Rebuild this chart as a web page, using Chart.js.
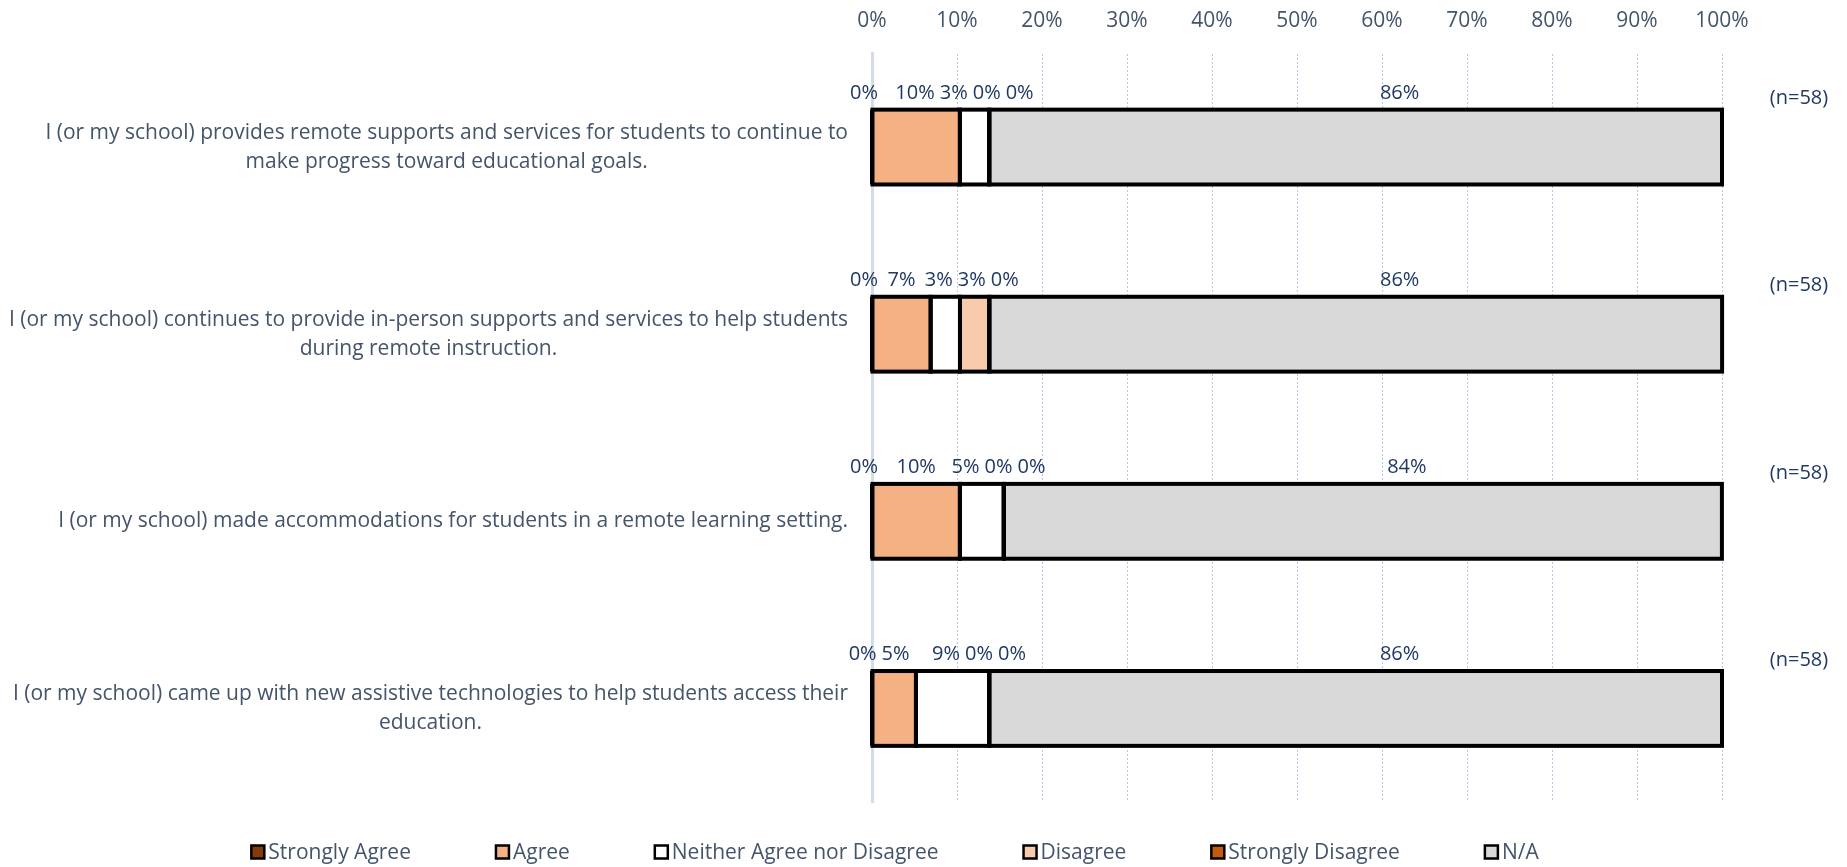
<!DOCTYPE html>
<html>
<head>
<meta charset="utf-8">
<script src="https://cdn.jsdelivr.net/npm/chart.js@4/dist/chart.umd.min.js"></script>
<style>
  html, body { margin: 0; padding: 0; background: #ffffff; }
  #wrap { width: 1847px; height: 867px; }
</style>
</head>
<body>
<div id="wrap"><canvas id="c" width="1847" height="867"></canvas></div>
<script>
// ---------------- data ----------------
const categories = [
  ['I (or my school) provides remote supports and services for students to continue to', 'make progress toward educational goals.'],
  ['I (or my school) continues to provide in-person supports and services to help students', 'during remote instruction.'],
  ['I (or my school) made accommodations for students in a remote learning setting.'],
  ['I (or my school) came up with new assistive technologies to help students access their', 'education.']
];
const seriesNames = ['Strongly Agree', 'Agree', 'Neither Agree nor Disagree', 'Disagree', 'Strongly Disagree', 'N/A'];
const stronglyAgree    = [0, 0, 0, 0];
const agree            = [10.34, 6.90, 10.34, 5.17];
const neither          = [3.45, 3.45, 5.17, 8.62];
const disagree         = [0, 3.45, 0, 0];
const stronglyDisagree = [0, 0, 0, 0];
const notApplicable    = [86.21, 86.21, 84.48, 86.21];
const respondents      = [58, 58, 58, 58];
const xTickValues      = [0, 10, 20, 30, 40, 50, 60, 70, 80, 90, 100];

// ---------------- styles ----------------
const FONT = "'Open Sans', 'Noto Sans', sans-serif";
const seriesColors = ['#843C0C', '#F4B183', '#FFFFFF', '#F8CBAD', '#C55A11', '#D9D9D9'];
const seriesLabelNudge = [-8, 0, 0, 0, 6, 44];
const TEXT_GREY = '#44546A';
const TEXT_NAVY = '#1F3864';

const seriesValues = [stronglyAgree, agree, neither, disagree, stronglyDisagree, notApplicable];

const datasets = seriesNames.map((name, i) => ({
  label: name,
  data: seriesValues[i],
  backgroundColor: seriesColors[i],
  borderWidth: 0,
  barPercentage: 0.4,
  categoryPercentage: 1.0
}));

// outline each segment like the Excel bars
const outlinePlugin = {
  id: 'outline',
  afterDatasetsDraw(chart) {
    const ctx = chart.ctx;
    ctx.save();
    ctx.strokeStyle = '#000000';
    ctx.lineWidth = 4;
    chart.data.datasets.forEach((ds, di) => {
      const meta = chart.getDatasetMeta(di);
      meta.data.forEach(el => {
        const left = Math.min(el.x, el.base);
        const w = Math.abs(el.x - el.base);
        ctx.strokeRect(left, el.y - el.height / 2, w, el.height);
      });
    });
    ctx.restore();
  }
};

// category labels (right-aligned block, centered lines)
const categoryLabelPlugin = {
  id: 'catLabels',
  afterDraw(chart) {
    const ctx = chart.ctx;
    const meta = chart.getDatasetMeta(0);
    const right = chart.chartArea.left - 24;
    const lh = 29;
    ctx.save();
    ctx.font = '21px ' + FONT;
    ctx.fillStyle = TEXT_GREY;
    ctx.textAlign = 'center';
    ctx.textBaseline = 'middle';
    categories.forEach((lines, i) => {
      const cy = meta.data[i].y;
      const maxW = Math.max(...lines.map(l => ctx.measureText(l).width));
      const cx = right - maxW / 2;
      const y0 = cy - (lines.length - 1) * lh / 2;
      lines.forEach((l, k) => ctx.fillText(l, cx, y0 + k * lh));
    });
    ctx.restore();
  }
};

// data labels above the bars, with overlap relaxation
const dataLabelPlugin = {
  id: 'dataLabels',
  afterDraw(chart) {
    const ctx = chart.ctx;
    ctx.save();
    ctx.font = '20px ' + FONT;
    ctx.fillStyle = TEXT_NAVY;
    ctx.textAlign = 'center';
    ctx.textBaseline = 'middle';
    const gap = 5;
    categories.forEach((c, i) => {
      const items = chart.data.datasets.map((ds, di) => {
        const el = chart.getDatasetMeta(di).data[i];
        const text = Math.round(ds.data[i]) + '%';
        return {
          text,
          x: (el.x + el.base) / 2 + seriesLabelNudge[di],
          w: ctx.measureText(text).width,
          top: el.y - el.height / 2
        };
      });
      for (let it = 0; it < 300; it++) {
        let moved = false;
        for (let k = 0; k < items.length - 1; k++) {
          const a = items[k], b = items[k + 1];
          const need = a.w / 2 + b.w / 2 + gap;
          const d = b.x - a.x;
          if (d < need - 0.01) {
            const o = (need - d) / 2;
            a.x -= o; b.x += o; moved = true;
          }
        }
        if (!moved) break;
      }
      items.forEach(it => ctx.fillText(it.text, it.x, it.top - 16.5));
      // respondents count at the right
      ctx.fillText('(n=' + respondents[i] + ')', chart.chartArea.right + 77, items[0].top - 11);
    });
    ctx.restore();
  }
};

// legend at bottom
const legendPlugin = {
  id: 'customLegend',
  afterDraw(chart) {
    const ctx = chart.ctx;
    ctx.save();
    ctx.font = '21px ' + FONT;
    ctx.textBaseline = 'middle';
    ctx.textAlign = 'left';
    const box = 13, boxGap = 4, itemGap = 85;
    const widths = seriesNames.map(n => box + boxGap + ctx.measureText(n).width);
    const total = widths.reduce((a, b) => a + b, 0) + itemGap * (seriesNames.length - 1);
    let x = 895 - total / 2;
    const y = 852;
    seriesNames.forEach((n, i) => {
      ctx.fillStyle = seriesColors[i];
      ctx.fillRect(x, y - box / 2, box, box);
      ctx.strokeStyle = '#000000';
      ctx.lineWidth = 2.5;
      ctx.strokeRect(x, y - box / 2, box, box);
      ctx.fillStyle = TEXT_GREY;
      ctx.fillText(n, x + box + boxGap, y + 1);
      x += widths[i] + itemGap;
    });
    ctx.restore();
  }
};

new Chart(document.getElementById('c'), {
  type: 'bar',
  data: { labels: categories, datasets },
  plugins: [outlinePlugin, categoryLabelPlugin, dataLabelPlugin, legendPlugin],
  options: {
    indexAxis: 'y',
    responsive: false,
    animation: false,
    layout: { padding: { left: 872, right: 125, top: 0, bottom: 65 } },
    plugins: { legend: { display: false }, tooltip: { enabled: false } },
    scales: {
      x: {
        position: 'top',
        stacked: true,
        min: 0,
        max: 100,
        afterBuildTicks(scale) { scale.ticks = xTickValues.map(v => ({ value: v })); },
        afterFit(scale) { scale.height = 53.5; },
        ticks: {
          callback: v => v + '%',
          color: TEXT_GREY,
          font: { family: FONT, size: 21 },
          padding: 20,
          maxRotation: 0,
          autoSkip: false
        },
        grid: { color: '#B4C7E7', lineWidth: 1, drawTicks: false },
        border: { display: false, dash: [2, 2] }
      },
      y: {
        stacked: true,
        ticks: { display: false },
        grid: { display: false },
        border: { display: true, color: '#D6DCE5', width: 3 },
        afterFit(scale) { scale.width = 0; }
      }
    }
  }
});
</script>
</body>
</html>
